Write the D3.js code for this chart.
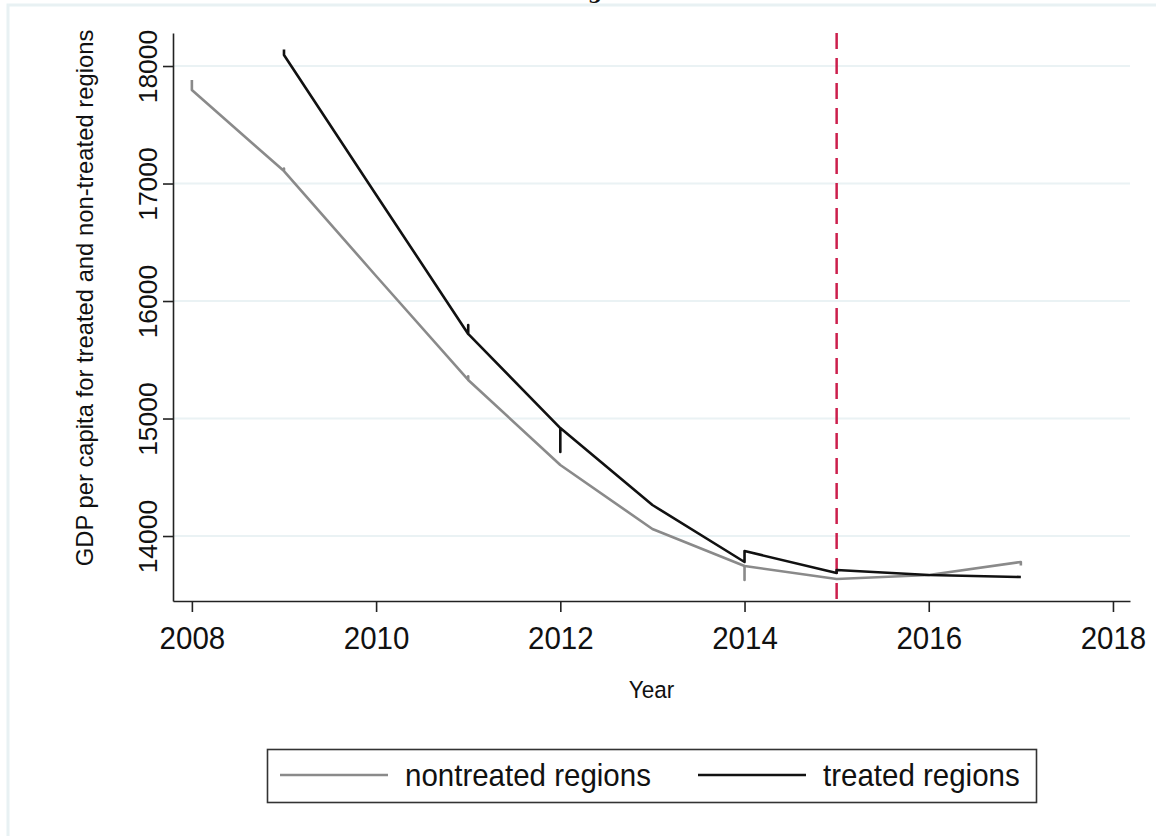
<!DOCTYPE html>
<html>
<head>
<meta charset="utf-8">
<script src="https://cdn.jsdelivr.net/npm/d3@7"></script>
<style>
  body { margin: 0; background: #fff; }
  text { font-family: "Liberation Sans", Arial, sans-serif; fill: #111; }
</style>
</head>
<body>
<svg id="chart"></svg>
<script>
// values (repeated years = the little spikes in the lines)
var nontreatedYears = [2008, 2008, 2009, 2009, 2009, 2010, 2011, 2011, 2011, 2012, 2013, 2014, 2014, 2014, 2015, 2016, 2017, 2017];
var nontreatedValues = [17880, 17796, 17106, 17128, 17106, 16213, 15328, 15360, 15328, 14604, 14060, 13745, 13626, 13745, 13634, 13668, 13779, 13750];

var treatedYears = [2009, 2009, 2010, 2011, 2011, 2011, 2012, 2012, 2012, 2013, 2014, 2014, 2015, 2015, 2016, 2017];
var treatedValues = [18140, 18094, 16905, 15720, 15796, 15720, 14919, 14715, 14919, 14264, 13779, 13872, 13685, 13711, 13668, 13651];

var xTicks = [2008, 2010, 2012, 2014, 2016, 2018];
var yTicks = [14000, 15000, 16000, 17000, 18000];
var treatmentYear = 2015;
var legendLabels = ["nontreated regions", "treated regions"];

(function () {
  var W = 1156, H = 836;
  var svg = d3.select("#chart")
    .attr("width", W)
    .attr("height", H);

  // faint outer frame
  svg.append("path")
    .attr("d", "M8,836 L8,5 L1156,5")
    .attr("fill", "none")
    .attr("stroke", "#e8f1f3")
    .attr("stroke-width", 3);

  // clipped title, only the descender shows
  svg.append("text")
    .attr("x", 595)
    .attr("y", -1)
    .attr("text-anchor", "middle")
    .style("font-family", "'DejaVu Serif', serif")
    .style("font-weight", "bold")
    .style("font-size", "20px")
    .text("g");

  var x = d3.scaleLinear()
    .domain([2007.795, 2018.185])
    .range([173, 1130]);

  var y = d3.scaleLinear()
    .domain([13447, 18281])
    .range([601, 33]);

  // grid lines
  svg.append("g")
    .selectAll("line")
    .data(yTicks)
    .enter().append("line")
    .attr("x1", x.range()[0])
    .attr("x2", x.range()[1])
    .attr("y1", function (d) { return y(d); })
    .attr("y2", function (d) { return y(d); })
    .attr("stroke", "#eaf2f4")
    .attr("stroke-width", 2);

  // x axis
  var xAxis = svg.append("g")
    .attr("transform", "translate(0," + y.range()[0] + ")")
    .call(d3.axisBottom(x).tickValues(xTicks).tickSize(11).tickSizeOuter(0).tickFormat(d3.format("d")));
  xAxis.select(".domain").attr("stroke", "#222").attr("stroke-width", 1.6);
  xAxis.selectAll(".tick line").attr("stroke", "#222").attr("stroke-width", 1.6);
  xAxis.selectAll(".tick text")
    .attr("y", 0)
    .attr("dy", 0)
    .attr("transform", "translate(0,48) scale(1,1.08)")
    .style("font-size", "29.5px")
    .style("font-family", "'Liberation Sans', Arial, sans-serif")
    .attr("fill", "#111");

  // y axis
  var yAxis = svg.append("g")
    .attr("transform", "translate(" + x.range()[0] + ",0)")
    .call(d3.axisLeft(y).tickValues(yTicks).tickSize(10).tickSizeOuter(0).tickFormat(d3.format("d")));
  yAxis.select(".domain").attr("stroke", "#222").attr("stroke-width", 1.6);
  yAxis.selectAll(".tick line").attr("stroke", "#222").attr("stroke-width", 1.6);
  yAxis.selectAll(".tick text")
    .attr("x", 0)
    .attr("dy", 0)
    .attr("text-anchor", "middle")
    .attr("transform", "translate(-16,0) rotate(-90)")
    .style("font-size", "26.5px")
    .style("font-family", "'Liberation Sans', Arial, sans-serif")
    .attr("fill", "#111");

  // axis titles
  svg.append("text")
    .attr("transform", "translate(" + ((x.range()[0] + x.range()[1]) / 2) + ",698) scale(1,1.08)")
    .attr("text-anchor", "middle")
    .style("font-size", "22.5px")
    .text("Year");

  svg.append("text")
    .attr("transform", "translate(93,298) rotate(-90)")
    .attr("text-anchor", "middle")
    .style("font-size", "23.8px")
    .text("GDP per capita for treated and non-treated regions");

  // treatment year
  svg.append("line")
    .attr("x1", x(treatmentYear))
    .attr("x2", x(treatmentYear))
    .attr("y1", y.range()[1])
    .attr("y2", y.range()[0])
    .attr("stroke", "#cc1f4c")
    .attr("stroke-width", 2.5)
    .attr("stroke-dasharray", "16,9");

  var line = d3.line()
    .x(function (d) { return x(d[0]); })
    .y(function (d) { return y(d[1]); });

  var nontreated = d3.zip(nontreatedYears, nontreatedValues);
  var treated = d3.zip(treatedYears, treatedValues);

  svg.append("path")
    .datum(nontreated)
    .attr("d", line)
    .attr("fill", "none")
    .attr("stroke", "#8a8a8a")
    .attr("stroke-width", 2.6)
    .attr("stroke-linejoin", "round");

  svg.append("path")
    .datum(treated)
    .attr("d", line)
    .attr("fill", "none")
    .attr("stroke", "#111")
    .attr("stroke-width", 2.6)
    .attr("stroke-linejoin", "round");

  // legend
  var legend = svg.append("g");
  legend.append("rect")
    .attr("x", 267.5)
    .attr("y", 749.5)
    .attr("width", 769)
    .attr("height", 53)
    .attr("fill", "#fff")
    .attr("stroke", "#333")
    .attr("stroke-width", 1.6);

  var legendColors = ["#8a8a8a", "#111"];
  var legendX = [280, 698];
  legendLabels.forEach(function (label, i) {
    legend.append("line")
      .attr("x1", legendX[i])
      .attr("x2", legendX[i] + 108)
      .attr("y1", 775)
      .attr("y2", 775)
      .attr("stroke", legendColors[i])
      .attr("stroke-width", 2.6);
    legend.append("text")
      .attr("transform", "translate(" + (legendX[i] + 125) + ",786) scale(1,1.08)")
      .style("font-size", "29.5px")
      .text(label);
  });
})();
</script>
</body>
</html>
